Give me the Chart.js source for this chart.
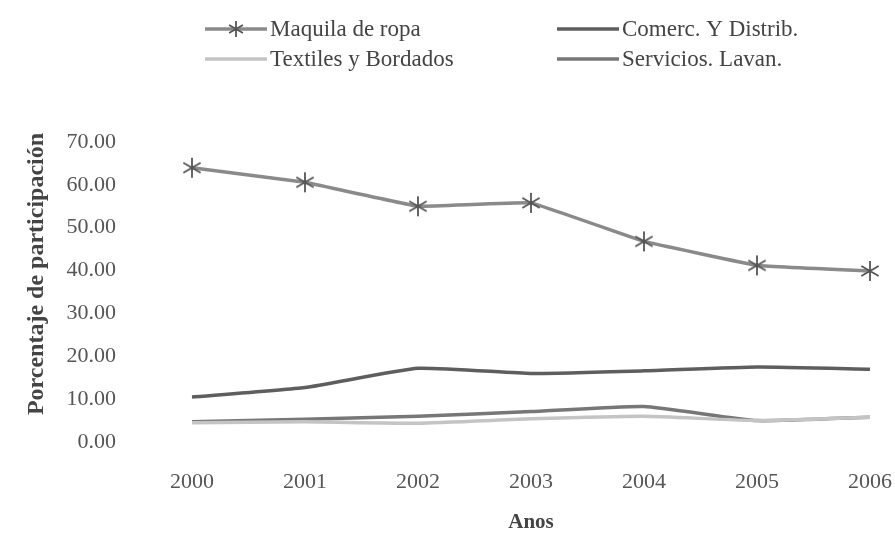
<!DOCTYPE html>
<html><head><meta charset="utf-8">
<script src="https://cdn.jsdelivr.net/npm/chart.js@4.4.1/dist/chart.umd.min.js"></script>
<style>html,body{margin:0;padding:0;background:#fff}#wrap{width:895px;height:535px;position:relative}</style>
</head><body><div id="wrap"><canvas id="c" width="895" height="535"></canvas></div>
<script>
const years = ['2000','2001','2002','2003','2004','2005','2006'];
const maquila = [64.0, 60.6, 55.0, 55.8, 46.8, 41.2, 39.9];
const comerc = [10.5, 12.7, 17.2, 16.0, 16.6, 17.5, 17.0];
const textiles = [4.5, 4.7, 4.4, 5.4, 6.0, 5.0, 5.8];
const servicios = [4.7, 5.3, 6.0, 7.1, 8.3, 5.0, 5.8];
const seriesNames = ['Maquila de ropa', 'Comerc. Y Distrib.', 'Textiles y Bordados', 'Servicios. Lavan.'];
const yTitle = 'Porcentaje de participación';
const xTitle = 'Anos';

const FONT = '"Liberation Serif", "Times New Roman", serif';

function makeStar(size, color){
  const c = document.createElement('canvas');
  c.width = size; c.height = size;
  const g = c.getContext('2d');
  g.strokeStyle = color; g.lineWidth = 1.8;
  const r = size/2 - 1, cx = size/2, cy = size/2;
  g.beginPath();
  for (let k=0;k<3;k++){
    const a = Math.PI/2 + k*Math.PI/3;
    g.moveTo(cx + r*Math.cos(a), cy - r*Math.sin(a));
    g.lineTo(cx - r*Math.cos(a), cy + r*Math.sin(a));
  }
  g.stroke();
  return c;
}
const star = makeStar(22, '#555');
const starSmall = makeStar(18, '#555');

const colors = ['#8a8a8a', '#5e5e5e', '#c4c4c4', '#777777'];

const legendPlugin = {
  id: 'customLegend',
  afterDraw(chart){
    const ctx = chart.ctx;
    ctx.save();
    ctx.font = '23px ' + FONT;
    ctx.fillStyle = '#444';
    ctx.textBaseline = 'middle';
    const items = [
      {x:205, y:29, i:0},
      {x:557, y:29, i:1},
      {x:205, y:59, i:2},
      {x:557, y:59, i:3},
    ];
    items.forEach(it => {
      ctx.strokeStyle = colors[it.i];
      ctx.lineWidth = 3.5;
      ctx.beginPath();
      ctx.moveTo(it.x, it.y); ctx.lineTo(it.x + 62, it.y);
      ctx.stroke();
      if (it.i === 0) ctx.drawImage(starSmall, it.x + 31 - 9, it.y - 9);
      ctx.fillText(seriesNames[it.i], it.x + 65, it.y + 1);
    });
    // y axis title
    ctx.font = 'bold 24px ' + FONT;
    ctx.translate(37, 274);
    ctx.rotate(-Math.PI/2);
    ctx.textAlign = 'center';
    ctx.fillText(yTitle, 0, 0);
    ctx.restore();
  }
};

const data = {
  labels: years,
  datasets: [
    {label: seriesNames[0], data: maquila, borderColor: colors[0], borderWidth: 3.5, pointStyle: star, pointRadius: 11, tension: 0.05},
    {label: seriesNames[1], data: comerc, borderColor: colors[1], borderWidth: 3.5, pointRadius: 0, tension: 0.15},
    {label: seriesNames[2], data: textiles, borderColor: colors[2], borderWidth: 3.5, pointRadius: 0, tension: 0.15},
    {label: seriesNames[3], data: servicios, borderColor: colors[3], borderWidth: 3.5, pointRadius: 0, tension: 0.15},
  ]
};

new Chart(document.getElementById('c'), {
  type: 'line',
  data,
  plugins: [legendPlugin],
  options: {
    responsive: false,
    animation: false,
    layout: {padding: {top: 142, right: 25, left: 0, bottom: 0}},
    plugins: {legend: {display: false}, tooltip: {enabled: false}},
    scales: {
      x: {
        offset: false,
        grid: {display: false, drawTicks: false},
        border: {display: false},
        ticks: {color: '#555', font: {family: FONT, size: 22}, padding: 27, maxRotation: 0},
        title: {display: true, text: xTitle, color: '#444', font: {family: FONT, size: 21, weight: 'bold'}, padding: {top: 4, bottom: 0}},
        afterFit(s){ s.height = 93; s.paddingRight = 0; s.paddingLeft = 0; }
      },
      y: {
        min: 0, max: 70,
        grid: {display: false, drawTicks: false},
        border: {display: false},
        ticks: {stepSize: 10, color: '#555', font: {family: FONT, size: 22}, padding: 76, callback: v => Number(v).toFixed(2)},
        title: {display: false},
        afterFit(s){ s.width = 192; }
      }
    }
  }
});
</script></body></html>
